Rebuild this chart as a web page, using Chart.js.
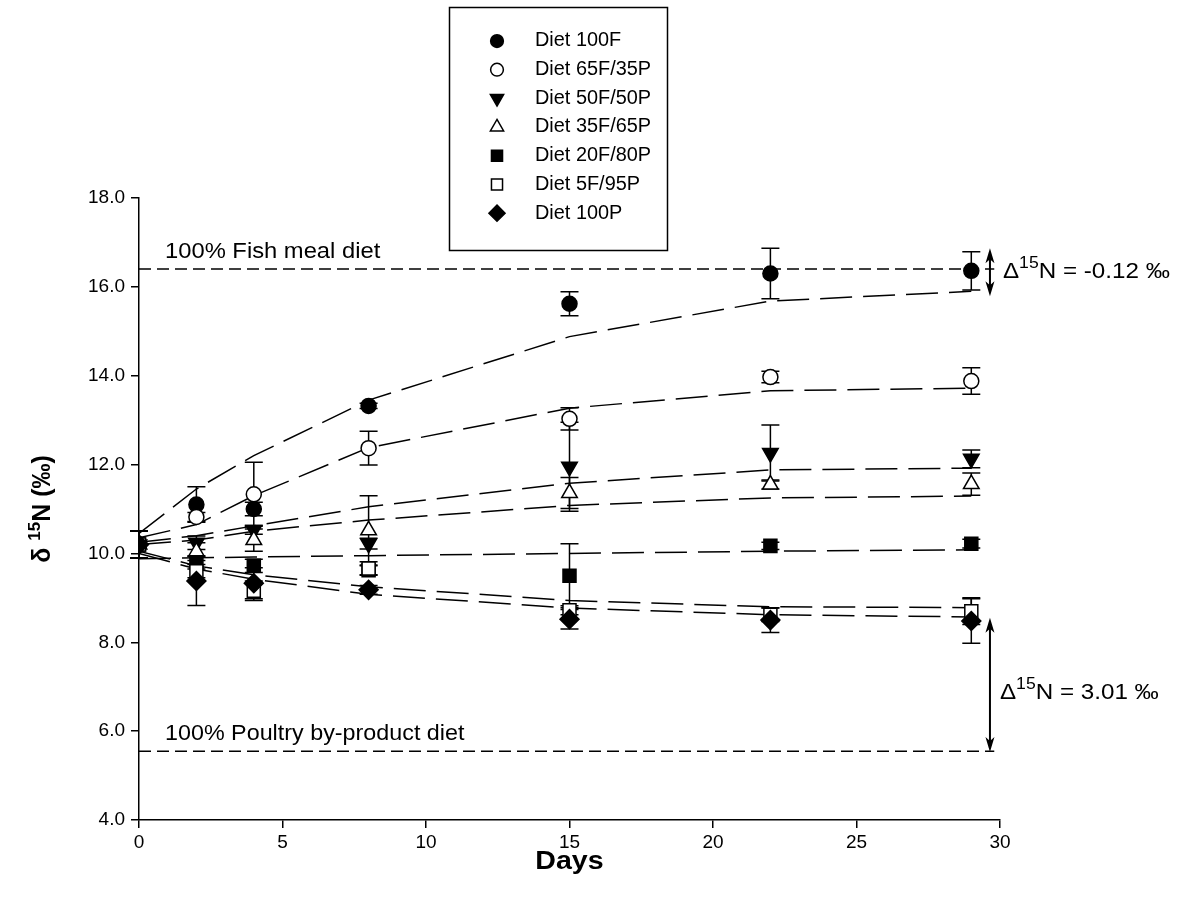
<!DOCTYPE html>
<html>
<head>
<meta charset="utf-8">
<script src="https://cdn.jsdelivr.net/npm/chart.js@4.4.0/dist/chart.umd.min.js"></script>
<style>
  html, body { margin: 0; padding: 0; background: #fff; }
  #wrap { width: 1178px; height: 907px; position: relative; }
</style>
</head>
<body>
<div id="wrap"><canvas id="chart" width="1178" height="907"></canvas></div>
<script>
// sampling days
const days = [0, 2, 4, 8, 15, 22, 29];
const seriesNames = ['Diet 100F', 'Diet 65F/35P', 'Diet 50F/50P', 'Diet 35F/65P', 'Diet 20F/80P', 'Diet 5F/95P', 'Diet 100P'];

// measured means
const mean100F = [10.2, 11.1, 11.0, 13.32, 15.62, 16.3, 16.36];
const mean65F = [10.2, 10.82, 11.33, 12.37, 13.03, 13.97, 13.88];
const mean50F = [10.2, 10.24, 10.53, 10.22, 11.95, 12.26, 12.13];
const mean35F = [10.2, 10.04, 10.3, 10.52, 11.36, 11.55, 11.56];
const mean20F = [10.2, 9.8, 9.72, 9.62, 9.5, 10.17, 10.22];
const mean5F = [10.2, 9.6, 9.16, 9.66, 8.72, 8.62, 8.7];
const mean100P = [10.2, 9.38, 9.33, 9.18, 8.52, 8.5, 8.48];

// standard deviations (error bars)
const sd100F = [0.3, 0.4, 0.15, 0.06, 0.27, 0.57, 0.43];
const sd65F = [0.3, 0.1, 0.72, 0.38, 0.25, 0.13, 0.3];
const sd50F = [0.3, 0.15, 0.1, 0.12, 1.0, 0.63, 0.2];
const sd35F = [0.3, 0.2, 0.25, 0.78, 0.35, 0.1, 0.25];
const sd20F = [0.3, 0.15, 0.15, 0.1, 0.72, 0.08, 0.1];
const sd5F = [0.3, 0.15, 0.22, 0.15, 0.1, 0.15, 0.3];
const sd100P = [0.3, 0.55, 0.35, 0.1, 0.22, 0.28, 0.5];

// fitted curves
const fit100F = [10.45, 11.45, 12.2, 13.45, 14.88, 15.68, 15.9];
const fit65F = [10.35, 10.65, 11.3, 12.38, 13.27, 13.66, 13.72];
const fit50F = [10.25, 10.4, 10.62, 11.05, 11.58, 11.88, 11.92];
const fit35F = [10.2, 10.3, 10.5, 10.75, 11.08, 11.25, 11.29];
const fit20F = [9.88, 9.9, 9.92, 9.95, 10.0, 10.05, 10.08];
const fit5F = [10.05, 9.72, 9.52, 9.25, 8.94, 8.8, 8.78];
const fit100P = [10.0, 9.65, 9.42, 9.08, 8.77, 8.62, 8.57];

// reference diets and annotations
const fishDiet = 16.4;
const poultryDiet = 5.55;
const refLineEnd = 29.8;
const arrowDay = 29.65;
const fishArrow = [16.87, 15.79];
const poultryArrow = [8.55, 5.53];
const deltaFish = '-0.12';
const deltaPoultry = '3.01';

const xTicks = [0, 5, 10, 15, 20, 25, 30];
const yTicks = [4, 6, 8, 10, 12, 14, 16, 18];

const means = [mean100F, mean65F, mean50F, mean35F, mean20F, mean5F, mean100P];
const sds = [sd100F, sd65F, sd50F, sd35F, sd20F, sd5F, sd100P];
const fits = [fit100F, fit65F, fit50F, fit35F, fit20F, fit5F, fit100P];

// marker styles
const markers = [
    { style: 'circle', rot: 0, r: 7.5, fill: '#000' },
    { style: 'circle', rot: 0, r: 7.5, fill: '#fff' },
    { style: 'triangle', rot: 180, r: 9, fill: '#000' },
    { style: 'triangle', rot: 0, r: 9, fill: '#fff' },
    { style: 'rect', rot: 0, r: 9.2, fill: '#000' },
    { style: 'rect', rot: 0, r: 9.2, fill: '#fff' },
    { style: 'rectRot', rot: 0, r: 9.5, fill: '#000' }
];

const FONT = '"Liberation Sans", Arial, sans-serif';
const STRETCH = 1.1;

const toXY = ys => days.map((d, i) => ({ x: d, y: ys[i] }));

const datasets = [];
means.forEach((m, i) => {
    datasets.push({
        type: 'scatter',
        label: seriesNames[i],
        data: toXY(m),
        pointStyle: markers[i].style,
        rotation: markers[i].rot,
        pointRadius: markers[i].r,
        backgroundColor: markers[i].fill,
        borderColor: '#000',
        borderWidth: 1.5,
        // later series sit on top, like the original
        order: 6 - i
    });
});
fits.forEach((f, i) => {
    datasets.push({
        type: 'line',
        label: 'fit ' + seriesNames[i],
        data: toXY(f),
        borderColor: '#000',
        borderWidth: 1.5,
        borderDash: [32, 11],
        pointRadius: 0,
        tension: 0,
        fill: false,
        order: 10
    });
});
[fishDiet, poultryDiet].forEach(v => {
    datasets.push({
        type: 'line',
        label: 'ref',
        data: [{ x: 0, y: v }, { x: refLineEnd, y: v }],
        borderColor: '#000',
        borderWidth: 1.5,
        borderDash: [12, 6],
        pointRadius: 0,
        fill: false,
        order: 11
    });
});

function drawMarker(ctx, m, x, y, r) {
    ctx.save();
    ctx.fillStyle = m.fill;
    ctx.strokeStyle = '#000';
    ctx.lineWidth = 1.5;
    ctx.beginPath();
    if (m.style === 'circle') {
        ctx.arc(x, y, r, 0, Math.PI * 2);
    } else if (m.style === 'triangle') {
        const s = m.rot === 180 ? -1 : 1;
        ctx.moveTo(x, y - s * r);
        ctx.lineTo(x + r * 0.866, y + s * r * 0.5);
        ctx.lineTo(x - r * 0.866, y + s * r * 0.5);
        ctx.closePath();
    } else if (m.style === 'rect') {
        const h = r * Math.SQRT1_2;
        ctx.rect(x - h, y - h, 2 * h, 2 * h);
    } else {
        ctx.moveTo(x, y - r);
        ctx.lineTo(x + r, y);
        ctx.lineTo(x, y + r);
        ctx.lineTo(x - r, y);
        ctx.closePath();
    }
    ctx.fill();
    ctx.stroke();
    ctx.restore();
}

// text drawn a little wider, the original export is stretched sideways
function wideText(ctx, str, x, y, font, sx) {
    ctx.save();
    ctx.font = font;
    ctx.translate(x, y);
    ctx.scale(sx, 1);
    ctx.fillText(str, 0, 0);
    const w = ctx.measureText(str).width * sx;
    ctx.restore();
    return w;
}

function arrow(ctx, x, y1, y2) {
    ctx.save();
    ctx.strokeStyle = '#000';
    ctx.fillStyle = '#000';
    ctx.lineWidth = 2;
    ctx.beginPath();
    ctx.moveTo(x, y1 + 4);
    ctx.lineTo(x, y2 - 4);
    ctx.stroke();
    [[y1, 1], [y2, -1]].forEach(([y, s]) => {
        ctx.beginPath();
        ctx.moveTo(x, y);
        ctx.lineTo(x - 4.5, y + s * 15);
        ctx.lineTo(x, y + s * 11);
        ctx.lineTo(x + 4.5, y + s * 15);
        ctx.closePath();
        ctx.fill();
    });
    ctx.restore();
}

// delta label with superscript
function deltaLabel(ctx, x, y, value) {
    ctx.save();
    ctx.fillStyle = '#000';
    ctx.textBaseline = 'alphabetic';
    ctx.textAlign = 'left';
    let w = wideText(ctx, '\u0394', x, y, '22px ' + FONT, STRETCH);
    w += wideText(ctx, '15', x + w, y - 10, '16px ' + FONT, STRETCH);
    wideText(ctx, 'N = ' + value + ' \u2030', x + w, y, '22px ' + FONT, STRETCH);
    ctx.restore();
}

const overlay = {
    id: 'overlay',
    beforeDatasetsDraw(chart) {
        const ctx = chart.ctx;
        const xs = chart.scales.x, ys = chart.scales.y;
        ctx.save();
        ctx.strokeStyle = '#000';
        ctx.lineWidth = 1.5;
        means.forEach((m, i) => {
            m.forEach((v, j) => {
                const e = sds[i][j];
                const px = xs.getPixelForValue(days[j]);
                const top = ys.getPixelForValue(v + e);
                const bot = ys.getPixelForValue(v - e);
                ctx.beginPath();
                ctx.moveTo(px, top); ctx.lineTo(px, bot);
                ctx.moveTo(px - 9, top); ctx.lineTo(px + 9, top);
                ctx.moveTo(px - 9, bot); ctx.lineTo(px + 9, bot);
                ctx.stroke();
            });
        });
        ctx.restore();
    },
    afterDraw(chart) {
        const ctx = chart.ctx;
        const xs = chart.scales.x, ys = chart.scales.y;

        // legend box
        ctx.save();
        ctx.strokeStyle = '#000';
        ctx.lineWidth = 1.5;
        ctx.strokeRect(449.5, 7.5, 218, 243);
        ctx.fillStyle = '#000';
        ctx.textBaseline = 'middle';
        seriesNames.forEach((name, i) => {
            const y = 41 + i * 28.7;
            drawMarker(ctx, markers[i], 497, y, markers[i].r * 0.85);
            ctx.fillStyle = '#000';
            wideText(ctx, name, 535, y, '19.5px ' + FONT, 1.02);
        });
        ctx.restore();

        // reference line labels
        ctx.save();
        ctx.fillStyle = '#000';
        ctx.textBaseline = 'alphabetic';
        wideText(ctx, '100% Fish meal diet', 165, ys.getPixelForValue(fishDiet) - 11, '22px ' + FONT, 1.08);
        wideText(ctx, '100% Poultry by-product diet', 165, ys.getPixelForValue(poultryDiet) - 11, '22px ' + FONT, 1.06);
        ctx.restore();

        // arrows and delta labels
        const ax = xs.getPixelForValue(arrowDay);
        arrow(ctx, ax, ys.getPixelForValue(fishArrow[0]), ys.getPixelForValue(fishArrow[1]));
        arrow(ctx, ax, ys.getPixelForValue(poultryArrow[0]), ys.getPixelForValue(poultryArrow[1]));
        deltaLabel(ctx, ax + 13, ys.getPixelForValue(fishDiet) + 9, deltaFish);
        deltaLabel(ctx, ax + 10, ys.getPixelForValue(7.0) + 12, deltaPoultry);

        // axis titles
        ctx.save();
        ctx.fillStyle = '#000';
        ctx.textBaseline = 'alphabetic';
        ctx.font = 'bold 26px ' + FONT;
        const dw = ctx.measureText('Days').width * STRETCH;
        wideText(ctx, 'Days', (chart.chartArea.left + chart.chartArea.right) / 2 - dw / 2, 869, 'bold 26px ' + FONT, STRETCH);

        ctx.translate(50, (chart.chartArea.top + chart.chartArea.bottom) / 2);
        ctx.rotate(-Math.PI / 2);
        const p1 = '\u03b4 ', p2 = '15', p3 = 'N (\u2030)';
        ctx.font = 'bold 25px ' + FONT;
        const w1 = ctx.measureText(p1).width, w3 = ctx.measureText(p3).width;
        ctx.font = 'bold 17px ' + FONT;
        const w2 = ctx.measureText(p2).width;
        const x0 = -(w1 + w2 + w3) / 2;
        ctx.textAlign = 'left';
        ctx.font = 'bold 25px ' + FONT;
        ctx.fillText(p1, x0, 0);
        ctx.font = 'bold 17px ' + FONT;
        ctx.fillText(p2, x0 + w1, -10);
        ctx.font = 'bold 25px ' + FONT;
        ctx.fillText(p3, x0 + w1 + w2, 0);
        ctx.restore();
    }
};

new Chart(document.getElementById('chart'), {
    type: 'scatter',
    data: { datasets: datasets },
    plugins: [overlay],
    options: {
        responsive: false,
        animation: false,
        devicePixelRatio: 1,
        layout: { padding: { left: 0, top: 198, right: 178, bottom: 0 } },
        plugins: {
            legend: { display: false },
            tooltip: { enabled: false }
        },
        scales: {
            x: {
                type: 'linear',
                min: 0,
                max: 30,
                afterBuildTicks: s => { s.ticks = xTicks.map(v => ({ value: v })); },
                afterFit: s => { s.height = 87; },
                grid: { display: true, drawOnChartArea: false, drawTicks: true, tickLength: 8, color: '#000', lineWidth: 1.5 },
                border: { display: true, color: '#000', width: 1.5 },
                ticks: { color: '#000', padding: 3, font: { family: FONT, size: 19 }, callback: v => String(v) }
            },
            y: {
                type: 'linear',
                min: 4,
                max: 18,
                afterBuildTicks: s => { s.ticks = yTicks.map(v => ({ value: v })); },
                afterFit: s => { s.width = 139; },
                grid: { display: true, drawOnChartArea: false, drawTicks: true, tickLength: 8, color: '#000', lineWidth: 1.5 },
                border: { display: true, color: '#000', width: 1.5 },
                ticks: { color: '#000', padding: 6, font: { family: FONT, size: 19 }, callback: v => v.toFixed(1) }
            }
        }
    }
});
</script>
</body>
</html>
